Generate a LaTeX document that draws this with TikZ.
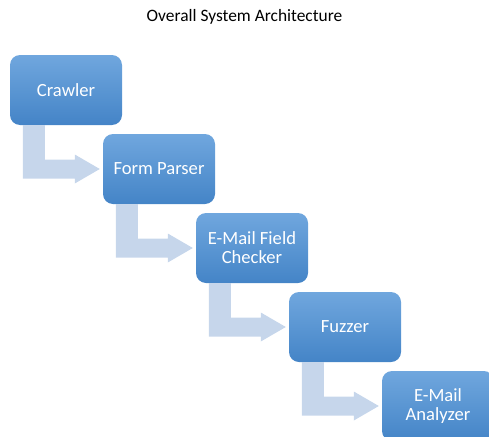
\documentclass[tikz,border=0pt]{standalone}
\usepackage{fontspec}
\setmainfont{Carlito}
\usetikzlibrary{calc}
\definecolor{boxtop}{RGB}{112,167,222}
\definecolor{boxbottom}{RGB}{68,132,199}
\definecolor{flowblue}{RGB}{198,214,235}
\tikzset{
    stage/.style = {rounded corners=10pt, top color=boxtop, bottom color=boxbottom,
                    minimum width=112pt, minimum height=70pt, inner sep=0pt,
                    text=white, align=center, font=\fontsize{18.6}{19}\selectfont},
    flow/.style  = {fill=flowblue}
}
\begin{document}
\begin{tikzpicture}[x=1pt, y=-1pt]
                \useasboundingbox (0, 0) rectangle (489, 436);
                \node[anchor=base, font=\fontsize{17.4}{20}\selectfont] (title) at (244.5, 22) {Overall System Architecture};
                % stages, one step down and right each time
                \foreach \name/\txt [count=\i from 0] in {crawler/Crawler, parser/Form Parser,
                        checker/{E-Mail Field\\Checker}, fuzzer/Fuzzer, analyzer/{E-Mail\\Analyzer}} {
                    \node[stage] (\name) at (66 + 93*\i, 90 + 79*\i) {\txt};
                }
                % bent arrows between stages
                \foreach \a/\b in {crawler/parser, parser/checker, checker/fuzzer, fuzzer/analyzer} {
                    \fill[flow] ($(\a.south west) + (13, 0)$) -- ($(\a.south west) + (35, 0)$)
                        |- ($(\b.west) + (-28, -9.5)$) -- ($(\b.west) + (-28, -14.5)$)
                        -- ($(\b.west) + (-3, 0)$) -- ($(\b.west) + (-28, 14.5)$)
                        -- ($(\b.west) + (-28, 9.5)$) -| ($(\a.south west) + (13, 0)$) -- cycle;
                }
            \end{tikzpicture}
\end{document}
